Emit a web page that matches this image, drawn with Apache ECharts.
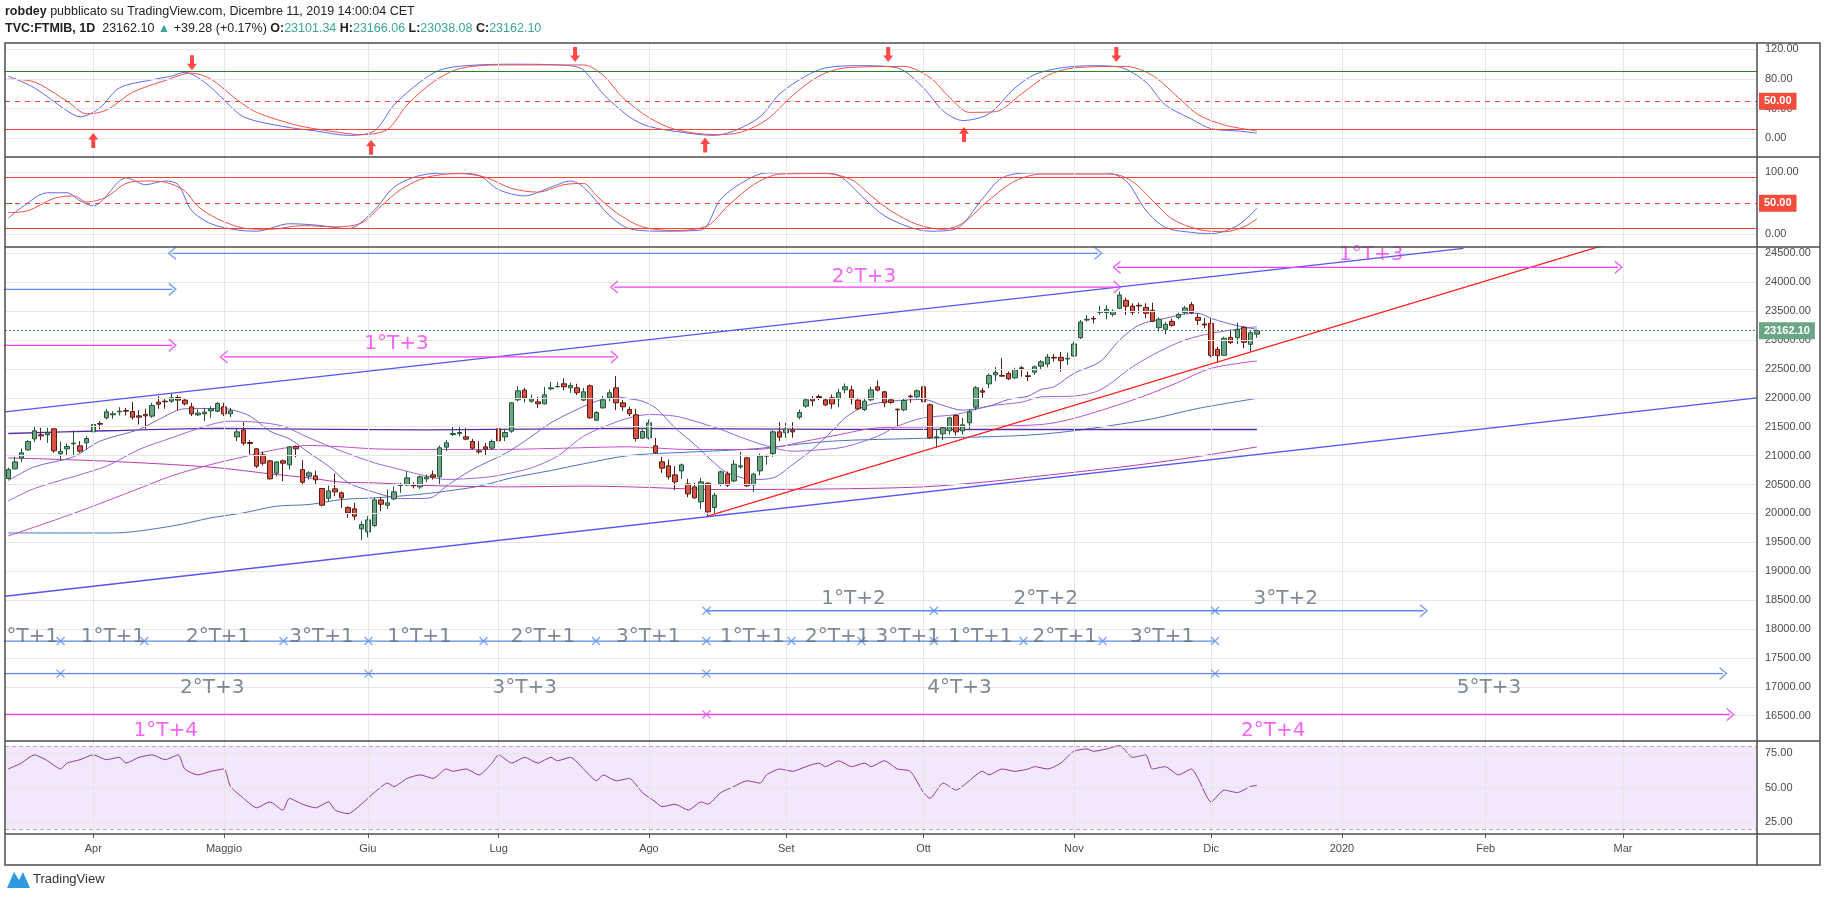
<!DOCTYPE html>
<html>
<head>
<meta charset="utf-8" />
<title>FTMIB 1D</title>
<script src="https://cdn.jsdelivr.net/npm/echarts@6/dist/echarts.min.js"></script>
<style type="text/css">
html, body { margin: 0; padding: 0; background: #fff; }
#chart { width: 1828px; height: 898px; }
</style>
</head>
<body>
<div id="chart"></div>
<script type="text/javascript">

var chart = echarts.init(document.getElementById('chart'));

// bar slots on the time axis (history + empty future space)
var barCount = 268;
var monthTicks = [[13, 'Apr'], [33, 'Maggio'], [55, 'Giu'], [75, 'Lug'], [98, 'Ago'], [119, 'Set'],
    [140, 'Ott'], [163, 'Nov'], [184, 'Dic'], [204, '2020'], [226, 'Feb'], [247, 'Mar']];

// daily candles [open, close, low, high], from mid March to 11 Dec 2019
var ohlc = [
[20604,20759,20586,20788],[20771,20892,20759,20979],[20956,21048,20892,21123],[21100,21244,21083,21267],
[21290,21429,21233,21498],[21360,21342,21267,21481],[21360,21394,21221,21481],[21463,21083,21048,21475],
[21031,21071,20933,21244],[21117,21158,21002,21210],[21204,21215,21002,21435],[21169,21077,21048,21250],
[21221,21296,21106,21336],[21411,21538,21394,21567],[21556,21544,21452,21596],[21654,21758,21625,21810],
[21706,21723,21636,21769],[21758,21769,21694,21838],[21781,21769,21694,21827],[21763,21665,21625,21931],
[21688,21665,21538,21787],[21712,21688,21463,21810],[21683,21867,21654,21913],[21925,21890,21810,22029],
[21942,21931,21810,21994],[21942,22000,21913,22075],[22006,21960,21787,22040],[21960,21896,21867,21994],
[21844,21723,21683,21913],[21706,21735,21683,21798],[21723,21752,21596,21827],[21775,21810,21654,21856],
[21769,21902,21752,21925],[21844,21723,21683,21913],[21723,21775,21665,21827],[21325,21411,21250,21463],
[21446,21215,21175,21579],[21227,21210,21019,21267],[21117,20817,20783,21129],[21013,20869,20829,21071],
[20910,20598,20586,20921],[20696,20892,20644,20898],[20910,20869,20558,20933],[20840,21152,20759,21163],
[21158,21117,20973,21175],[20759,20540,20488,20921],[20644,20702,20586,20731],[20650,20581,20500,20742],
[20431,20142,20125,20431],[20263,20390,20211,20483],[20425,20373,20298,20690],[20356,20269,20096,20379],
[20102,20009,19923,20125],[20079,19952,19882,20183],[19732,19807,19536,19865],[19680,19888,19588,19952],
[19790,20234,19767,20269],[20234,20159,20038,20281],[20142,20183,20079,20413],[20252,20373,20229,20471],
[20483,20494,20356,20529],[20494,20615,20471,20731],[20494,20477,20431,20540],[20459,20633,20425,20656],
[20598,20627,20540,20673],[20667,20627,20586,20742],[20633,21135,20500,21175],[21146,21221,21077,21267],
[21365,21383,21336,21510],[21383,21400,21336,21521],[21325,21285,21267,21481],[21244,21129,21106,21290],
[21083,21065,21031,21250],[21152,21111,20990,21221],[21129,21244,21094,21279],[21463,21256,21244,21481],
[21325,21400,21250,21463],[21423,21913,21394,21925],[21965,22121,21937,22202],[22133,22000,21925,22173],
[21942,21983,21913,22058],[21931,21896,21821,22017],[21896,22052,21885,22190],[22156,22173,22133,22277],
[22190,22196,22185,22277],[22242,22190,22133,22335],[22173,22213,22087,22260],[22173,22087,22046,22242],
[21960,22104,21942,22173],[22208,21654,21636,22231],[21613,21746,21596,21769],[21827,21965,21810,22029],
[22000,22087,21942,22144],[22173,21913,21787,22375],[21913,21844,21769,21960],[21798,21723,21683,21844],
[21706,21296,21244,21810],[21302,21417,21290,21452],[21308,21567,21279,21625],[21169,21048,21036,21308],
[20892,20783,20702,20979],[20823,20633,20586,20933],[20667,20546,20402,20817],[20736,20840,20598,20863],
[20511,20338,20280,20598],[20459,20269,20252,20529],[20200,20546,20079,20615],[20523,20027,19952,20540],
[20102,20315,19998,20356],[20511,20719,20471,20742],[20684,20488,20459,20725],[20563,20852,20540,20921],
[20806,20823,20771,21060],[20961,20477,20459,20979],[20494,20679,20367,20702],[20736,20990,20656,21036],
[20990,21002,20846,21019],[21036,21411,20979,21440],[21411,21319,21250,21579],[21394,21458,21308,21567],
[21440,21411,21308,21579],[21665,21746,21625,21798],[21856,21965,21827,22000],[21988,21948,21856,22029],
[22023,22006,21960,22058],[21965,21879,21856,22000],[22000,21896,21810,22058],[21983,22087,21838,22156],
[22138,22190,22075,22248],[22138,21983,21885,22213],[21960,21810,21787,22000],[21798,21942,21769,22000],
[21965,22138,21942,22190],[22190,22133,22110,22300],[22104,21913,21838,22115],[21965,21919,21896,22000],
[21804,21792,21498,21810],[21792,21954,21769,22000],[22029,22017,21913,22058],[22017,22121,21971,22144],
[22190,21931,21913,22300],[21879,21308,21290,21902],[21308,21325,21135,21452],[21377,21481,21267,21510],
[21429,21654,21365,21671],[21694,21411,21348,21712],[21429,21533,21365,21654],[21567,21758,21452,21798],
[21838,22173,21787,22202],[22121,22098,22000,22173],[22242,22387,22167,22421],[22398,22438,22288,22531],
[22387,22375,22369,22687],[22421,22329,22306,22456],[22346,22490,22329,22519],[22519,22508,22364,22548],
[22381,22369,22288,22456],[22444,22537,22398,22560],[22548,22623,22490,22652],[22585,22706,22527,22758],
[22700,22688,22625,22758],[22700,22642,22452,22792],[22671,22683,22567,22781],[22723,22931,22712,22971],
[23040,23312,23017,23346],[23346,23358,23317,23433],[23375,23364,23288,23415],[23479,23490,23433,23589],
[23473,23531,23358,23606],[23444,23496,23404,23531],[23548,23779,23537,23837],[23687,23583,23433,23733],
[23589,23479,23433,23635],[23600,23589,23462,23646],[23565,23462,23375,23635],[23514,23323,23312,23646],
[23213,23358,23144,23392],[23185,23271,23098,23312],[23323,23254,23231,23375],[23392,23444,23358,23473],
[23473,23554,23450,23589],[23612,23473,23450,23658],[23392,23340,23260,23462],[23277,23260,23202,23381],
[23289,22735,22700,23375],[22838,22729,22608,22885],[22735,23029,22729,23058],[23046,22954,22931,23185],
[23040,23185,22931,23300],[23219,22960,22856,23242],[22925,23127,22798,23173],[23101.34,23162.10,23038.08,23166.06]
];
var lastPrice = 23162.10;

// moving averages [bar, value]
var maFast = [[0,20569],[4,20806],[10,20979],[14,21250],[20,21452],[23,21625],[27,21810],[32,21815],[34,21798],[37,21683],[40,21423],[43,21290],[46,21048],[49,20817],[52,20529],[55,20402],[58,20298],[60,20258],[63,20258],[65,20287],[67,20471],[71,20760],[76,21036],[79,21250],[83,21567],[87,21798],[90,21942],[93,22017],[95,21983],[97,21942],[99,21827],[102,21481],[105,21192],[108,20875],[110,20702],[114,20587],[117,20615],[120,20846],[123,21106],[126,21423],[128,21654],[131,21856],[135,21942],[140,21971],[143,21867],[146,21787],[150,21856],[153,21971],[156,22029],[158,22144],[160,22192],[163,22423],[167,22625],[170,23000],[173,23260],[177,23375],[180,23450],[182,23462],[184,23375],[186,23306],[188,23248],[191,23185]];
var maMid = [[0,20215],[4,20431],[15,20817],[20,21106],[25,21308],[31,21538],[34,21596],[38,21579],[42,21510],[46,21308],[51,21077],[56,20875],[59,20788],[64,20644],[67,20587],[72,20615],[75,20656],[80,20788],[84,20990],[88,21336],[92,21538],[95,21654],[98,21711],[102,21683],[105,21596],[109,21452],[113,21279],[117,21135],[120,21077],[124,21100],[128,21152],[133,21336],[136,21509],[140,21654],[145,21711],[150,21856],[155,21925],[158,22017],[163,22030],[167,22135],[172,22538],[176,22798],[180,23000],[184,23115],[188,23185],[191,23230]];
var maSlow = [[0,19610],[10,20000],[20,20431],[25,20650],[31,20846],[36,20979],[41,21106],[46,21175],[51,21152],[56,21117],[64,21106],[75,21106],[83,21123],[95,21152],[104,21106],[114,21106],[117,21135],[122,21250],[127,21360],[133,21480],[145,21500],[158,21538],[163,21644],[172,21961],[178,22221],[184,22510],[191,22637]];
var maLong = [[0,19662],[16,19662],[25,19780],[31,19923],[36,20010],[41,20125],[46,20154],[51,20240],[56,20269],[61,20310],[64,20344],[67,20385],[72,20471],[77,20615],[83,20742],[88,20858],[95,21002],[104,21060],[114,21117],[126,21250],[140,21300],[158,21370],[174,21615],[182,21817],[191,21990]];
var maFlat = [[0,21383],[15,21430],[32,21470],[50,21455],[64,21446],[95,21470],[127,21455],[150,21452],[191,21452]];
var maDrift = [[0,20961],[15,20904],[31,20800],[41,20673],[46,20615],[51,20540],[56,20529],[64,20483],[77,20460],[88,20471],[95,20460],[109,20413],[127,20425],[140,20460],[150,20550],[158,20650],[170,20800],[180,20950],[191,21150]];

// trend lines [bar, price]
var channelTop = [[-0.5,21755],[222.6,24586]];
var channelBottom = [[-0.5,18567],[267.5,22000]];
var redTrend = [[107,19952],[245,24672]];

// stochastic panels [bar, value]
var stochAK = [[0,84],[4,68],[9,37],[11,29],[14,41],[17,68],[22,79],[25,84],[27,89],[30,76],[33,52],[36,29],[42,16],[47,10],[52,4],[56,10],[59,45],[63,76],[66,92],[70,98],[77,100],[86,98],[88,92],[91,60],[95,29],[98,16],[104,7],[108,4],[111,10],[115,29],[118,60],[122,84],[125,95],[130,98],[136,95],[140,68],[143,37],[146,24],[150,33],[154,68],[157,86],[161,95],[166,98],[170,96],[174,76],[177,45],[181,26],[184,13],[188,10],[191,7]];
var stochAD = [[0,80],[4,76],[9,50],[12,33],[15,38],[19,62],[24,78],[28,88],[31,80],[35,52],[38,35],[44,18],[49,10],[54,5],[58,12],[61,45],[65,76],[69,94],[75,99],[88,99],[91,85],[94,55],[98,28],[102,12],[108,5],[112,8],[116,25],[120,58],[124,84],[128,95],[137,97],[141,82],[144,55],[147,35],[151,36],[155,60],[159,85],[163,95],[171,97],[175,85],[179,55],[182,32],[186,18],[191,10]];
var stochBK = [[0,26],[2,43],[6,67],[9,67],[11,54],[13,46],[17,86],[18,91],[21,80],[24,86],[26,80],[28,39],[31,17],[35,7],[38,5],[43,17],[47,15],[52,9],[56,39],[59,76],[63,95],[68,99],[72,95],[75,72],[79,62],[83,76],[86,86],[88,76],[92,30],[95,9],[100,5],[106,7],[109,57],[113,88],[116,99],[124,99],[127,95],[131,57],[134,30],[138,11],[141,5],[145,9],[149,57],[152,91],[156,99],[168,99],[171,86],[174,39],[177,11],[181,3],[184,1],[188,14],[191,42]];
var stochBD = [[0,35],[3,38],[7,58],[10,62],[12,52],[15,60],[18,82],[21,86],[24,84],[27,70],[29,45],[32,25],[36,10],[40,8],[45,14],[50,12],[54,18],[57,45],[60,72],[64,92],[69,98],[73,92],[77,74],[81,68],[85,80],[88,82],[90,62],[93,35],[97,12],[102,6],[107,14],[110,45],[114,80],[118,97],[125,98],[129,88],[132,62],[135,38],[139,16],[143,8],[146,18],[150,55],[154,86],[158,97],[169,97],[172,85],[175,55],[178,25],[182,8],[186,4],[189,12],[191,25]];
var turnsDown = [[28.1,102],[86.7,113],[134.6,113],[169.5,113]];
var turnsUp = [[13,-3],[55.5,-12],[106.6,-9],[146.2,5]];

// RSI [bar, value]
var rsi = [[0,63.6],[2,67.9],[4,73.9],[6,69.6],[8,63.6],[9,67.9],[11,70.4],[13,73.9],[15,70.4],[17,72.1],[18,67.9],[20,72.1],[22,73.9],[24,70.4],[26,73.9],[27,63.6],[29,59.3],[31,61.9],[33,63.6],[34,50.8],[36,42.2],[38,35.3],[40,39.6],[42,33.6],[43,42.2],[45,37.9],[47,35.3],[49,39.6],[50,33.6],[52,31.0],[54,37.9],[56,46.4],[58,53.3],[59,50.8],[61,56.7],[63,59.3],[65,56.7],[67,63.6],[68,61.9],[70,63.6],[72,59.3],[74,67.9],[75,73.9],[77,67.9],[79,72.1],[81,67.9],[83,72.1],[84,69.6],[86,72.1],[88,63.6],[90,55.0],[91,59.3],[93,55.0],[95,56.7],[97,46.4],[99,39.6],[100,36.1],[102,37.9],[104,33.6],[106,39.6],[107,37.9],[109,46.4],[111,50.8],[113,55.0],[115,53.3],[116,59.3],[118,63.6],[120,61.9],[122,65.3],[124,67.9],[125,65.3],[127,69.6],[129,65.3],[131,67.9],[132,65.3],[134,69.6],[136,63.6],[138,61.9],[140,46.4],[141,42.2],[143,53.3],[145,48.2],[147,55.0],[149,61.9],[150,59.3],[152,63.6],[154,61.9],[156,63.6],[157,65.3],[159,63.6],[161,67.9],[163,76.5],[165,78.2],[166,76.5],[168,78.2],[170,80.7],[172,72.1],[174,73.9],[175,63.6],[177,65.3],[179,59.3],[181,63.6],[182,56.7],[184,39.6],[186,48.2],[188,46.4],[190,50.8],[191,51.6]];

// cycle drawings
var arrowsBlue = [[[-1,23876],[25.1,23876]], [[25.1,24500],[166.7,24500]]];
var arrowsMagenta = [[[-1,22908],[25.1,22908]], [[33.0,22708],[92.7,22708]], [[92.7,23916],[169.6,23916]], [[169.6,24258],[246.3,24258]]];
var rowT1 = {y: 17792, from: -1, to: 184.6, marks: [8.0,20.8,42.1,55.1,72.7,89.9,106.8,119.8,130.5,141.6,155.3,167.4,184.6]};
var rowT2 = {y: 18316, from: 106.8, to: 216.5, marks: [106.8,141.6,184.6]};
var rowT3 = {y: 17229, from: -1, to: 262.3, marks: [8.0,55.1,106.8,184.6]};
var rowT4 = {y: 16523, from: -1, to: 263.4, marks: [106.8]};
var labelsMagenta = [['1°T+3',59.4,22929],['2°T+3',130.9,24097],['1°T+3',208.5,24481],['1°T+4',24.1,16240],['2°T+4',193.5,16240]];
var labelsGrey = [['1°T+2',129.3,18518],['2°T+2',158.7,18518],['3°T+2',195.4,18518],
    ['°T+1',3.7,17873],['1°T+1',16.0,17873],['2°T+1',32.1,17873],['3°T+1',47.9,17873],['1°T+1',62.9,17873],
    ['2°T+1',81.8,17873],['3°T+1',97.9,17873],['1°T+1',113.8,17873],['2°T+1',126.8,17873],['3°T+1',137.6,17873],
    ['1°T+1',148.7,17873],['2°T+1',161.6,17873],['3°T+1',176.5,17873],
    ['2°T+3',31.2,16987],['3°T+3',79.0,16987],['4°T+3',145.5,16987],['5°T+3',226.5,16987]];

var priceTicks = [16500,17000,17500,18000,18500,19000,19500,20000,20500,21000,21500,22000,22500,23000,23500,24000,24500];

// ---------------------------------------------------------------
var MAGENTA = '#f23df2', BLUE = '#5b8def', GREY_TXT = '#5d6b7c';
var FONT = 'Liberation Sans';
var monthIdx = monthTicks.map(function (m) { return m[0]; });
var monthName = {};
monthTicks.forEach(function (m) { monthName[m[0]] = m[1]; });
var cats = [];
for (var i = 0; i < barCount; i++) cats.push(String(i));

var grids = [
    {left: 5, right: 71, top: 43, height: 114},
    {left: 5, right: 71, top: 157, height: 90},
    {left: 5, right: 71, top: 247, height: 494},
    {left: 5, right: 71, top: 741, height: 93}
];

function valueX(g) {
    return {type: 'value', gridIndex: g, position: 'top', min: -0.5, max: barCount - 0.5, show: false};
}
function rightY(g, min, max, ticks) {
    return {
        type: 'value', gridIndex: g, position: 'right', min: min, max: max, scale: true,
        axisLine: {show: false},
        axisTick: {show: true, customValues: ticks, length: 4, lineStyle: {color: '#555'}},
        splitLine: {show: false},
        axisLabel: {customValues: ticks, color: '#4a4a4a', fontSize: 11, fontFamily: FONT, margin: 8,
            formatter: function (v) { return v.toFixed(2); }}
    };
}
function gridLines(xa, ya, ys) {
    var d = monthIdx.map(function (m) { return {xAxis: m}; });
    ys.forEach(function (y) { d.push({yAxis: y}); });
    return {
        type: 'line', xAxisIndex: xa, yAxisIndex: ya, data: [], silent: true, z: 0,
        markLine: {silent: true, symbol: ['none', 'none'], label: {show: false},
            lineStyle: {color: '#e6e6e6', width: 1, type: 'solid'}, data: d}
    };
}
function levelLines(xa, ya, levels) {
    return {
        type: 'line', xAxisIndex: xa, yAxisIndex: ya, data: [], silent: true, z: 1,
        markLine: {silent: true, symbol: ['none', 'none'],
            data: levels.map(function (l) {
                return {yAxis: l.v, lineStyle: {color: l.c, width: 1, type: l.t || 'solid'},
                    label: l.box ? {show: true, position: 'end', distance: 2, formatter: l.v.toFixed(2),
                        backgroundColor: l.box, color: '#fff', fontSize: 11, fontFamily: FONT,
                        fontWeight: 'bold', padding: [3, 5]} : {show: false}};
            })}
    };
}
function line(xa, ya, data, color, width, z) {
    return {type: 'line', xAxisIndex: xa, yAxisIndex: ya, data: data, symbol: 'none', smooth: 0.3,
        silent: true, z: z || 3, lineStyle: {color: color, width: width || 1}};
}
function straight(data, color) {
    return {type: 'line', xAxisIndex: 2, yAxisIndex: 2, data: data, symbol: 'none', silent: true, z: 5,
        lineStyle: {color: color, width: 1.3}};
}
var CHEVRON = 'path://M0,0L8,6L0,12';
var CROSS = 'path://M0,0L10,10M10,0L0,10';
function marks(points, symbol, color, size, rot) {
    return {type: 'scatter', xAxisIndex: 2, yAxisIndex: 2, symbol: symbol, symbolSize: size, silent: true, z: 6,
        symbolRotate: rot || 0,
        itemStyle: {color: 'rgba(0,0,0,0)', borderColor: color, borderWidth: 1.3}, data: points};
}
function texts(list, color) {
    return {type: 'scatter', xAxisIndex: 2, yAxisIndex: 2, symbolSize: 0, silent: true, z: 7,
        data: list.map(function (t) { return {name: t[0], value: [t[1], t[2]]}; }),
        label: {show: true, position: 'inside', formatter: '{b}', color: color, fontSize: 20, fontFamily: 'DejaVu Sans'}};
}

var series = [];
// panel grids
series.push(gridLines(0, 0, [0, 40, 80, 120]));
series.push(gridLines(1, 1, [0, 100]));
series.push(gridLines(2, 2, priceTicks));
series.push(gridLines(4, 3, [25, 50, 75]));
// stochastic levels
series.push(levelLines(0, 0, [{v: 90, c: '#2e7d32'}, {v: 50, c: '#f44336', t: [5, 5], box: '#f24c3d'}, {v: 12, c: '#f44336'}]));
series.push(levelLines(1, 1, [{v: 92, c: '#f44336'}, {v: 50, c: '#f44336', t: [5, 5], box: '#f24c3d'}, {v: 10, c: '#f44336'}]));
series.push(line(0, 0, stochAK, '#5c6cf0'));
series.push(line(0, 0, stochAD, '#f0524b'));
series.push(line(1, 1, stochBK, '#5c6cf0'));
series.push(line(1, 1, stochBD, '#f0524b'));
series.push({type: 'scatter', xAxisIndex: 0, yAxisIndex: 0, data: turnsDown, silent: true, z: 6,
    symbol: 'path://M3,0L7,0L7,9L10,9L5,16L0,9L3,9Z', symbolSize: [10, 15], itemStyle: {color: '#ff1a1a'}});
series.push({type: 'scatter', xAxisIndex: 0, yAxisIndex: 0, data: turnsUp, silent: true, z: 6,
    symbol: 'path://M3,0L7,0L7,9L10,9L5,16L0,9L3,9Z', symbolRotate: 180, symbolSize: [10, 15], itemStyle: {color: '#ff1a1a'}});

// moving averages
series.push(line(2, 2, maLong, '#4a74bd'));
series.push(line(2, 2, maFlat, '#5a2da6', 1.3));
series.push(line(2, 2, maDrift, '#b93ab4'));
series.push(line(2, 2, maSlow, '#c24fc6'));
series.push(line(2, 2, maMid, '#9d68d9'));
series.push(line(2, 2, maFast, '#7766d8'));

// candles
series.push({
    type: 'candlestick', xAxisIndex: 3, yAxisIndex: 2, data: ohlc, barWidth: 5, z: 4, silent: true,
    itemStyle: {color: '#6ba583', color0: '#d75442', borderColor: '#225437', borderColor0: '#5b1a13', borderWidth: 1},
    markLine: {silent: true, symbol: ['none', 'none'],
        data: [{yAxis: lastPrice, lineStyle: {color: '#3d8a5c', type: [2, 2], width: 1},
            label: {show: true, position: 'end', distance: 2, formatter: lastPrice.toFixed(2), backgroundColor: '#6ba583',
                color: '#fff', fontSize: 11, fontWeight: 'bold', fontFamily: FONT, padding: [3, 5]}}]}
});

// trend lines and cycle drawings
series.push(straight(channelTop, '#5555f5'));
series.push(straight(channelBottom, '#5555f5'));
series.push(straight(redTrend, '#ff2222'));
arrowsBlue.forEach(function (a) { series.push(straight(a, BLUE)); });
arrowsMagenta.forEach(function (a) { series.push(straight(a, MAGENTA)); });
[rowT1, rowT2, rowT3].forEach(function (r) {
    series.push(straight([[r.from, r.y], [r.to, r.y]], BLUE));
    series.push(marks(r.marks.map(function (m) { return [m, r.y]; }), CROSS, BLUE, 8));
});
series.push(straight([[rowT4.from, rowT4.y], [rowT4.to, rowT4.y]], MAGENTA));
series.push(marks(rowT4.marks.map(function (m) { return [m, rowT4.y]; }), CROSS, MAGENTA, 8));
// arrow heads
var headsRight = [[25.1,23876],[166.7,24500],[216.5,rowT2.y],[262.3,rowT3.y]];
var headsLeft = [[25.1,24500]];
series.push(marks(headsRight, CHEVRON, BLUE, [7, 12], 0));
series.push(marks(headsLeft, CHEVRON, BLUE, [7, 12], 180));
series.push(marks([[25.1,22908],[92.7,22708],[169.6,23916],[246.3,24258],[263.4,rowT4.y]], CHEVRON, MAGENTA, [7, 12], 0));
series.push(marks([[33.0,22708],[92.7,23916],[169.6,24258]], CHEVRON, MAGENTA, [7, 12], 180));
series.push(texts(labelsMagenta, MAGENTA));
series.push(texts(labelsGrey, GREY_TXT));

// RSI
series.push({type: 'line', xAxisIndex: 4, yAxisIndex: 3, data: rsi, symbol: 'none', smooth: 0.2, silent: true, z: 3,
    lineStyle: {color: '#8e3a9e', width: 1},
    markArea: {silent: true, itemStyle: {color: 'rgba(190,130,235,0.18)'}, data: [[{yAxis: 20}, {yAxis: 80}]]},
    markLine: {silent: true, symbol: ['none', 'none'], label: {show: false},
        lineStyle: {color: '#b8a4c8', type: [4, 3], width: 1}, data: [{yAxis: 80}, {yAxis: 20}]}});

var option = {
    animation: false,
    backgroundColor: '#ffffff',
    grid: grids,
    xAxis: [
        valueX(0), valueX(1), valueX(2),
        {type: 'category', gridIndex: 2, position: 'bottom', data: cats, show: false, boundaryGap: true},
        valueX(3),
        {type: 'category', gridIndex: 3, position: 'bottom', data: cats, boundaryGap: true,
            axisLine: {show: false},
            axisTick: {show: true, alignWithLabel: true, length: 4, lineStyle: {color: '#555'},
                interval: function (i) { return monthName[i] !== undefined; }},
            axisLabel: {color: '#4a4a4a', fontSize: 11, fontFamily: FONT, margin: 9,
                interval: function (i) { return monthName[i] !== undefined; },
                formatter: function (v, i) { return monthName[i] || ''; }},
            splitLine: {show: false}}
    ],
    yAxis: [
        rightY(0, -25.2, 128.6, [0, 40, 80, 120]),
        rightY(1, -20.5, 124.7, [0, 50, 100]),
        rightY(2, 16063, 24609, priceTicks),
        rightY(3, 16.2, 84, [25, 50, 75])
    ],
    graphic: [
        {type: 'rect', shape: {x: 5, y: 43, width: 1815, height: 822}, style: {fill: 'none', stroke: '#4d4d4d', lineWidth: 1.5}, z: 50},
        {type: 'line', shape: {x1: 5, y1: 157, x2: 1820, y2: 157}, style: {stroke: '#4d4d4d', lineWidth: 1.5}, z: 50},
        {type: 'line', shape: {x1: 5, y1: 247, x2: 1820, y2: 247}, style: {stroke: '#4d4d4d', lineWidth: 1.5}, z: 50},
        {type: 'line', shape: {x1: 5, y1: 741, x2: 1820, y2: 741}, style: {stroke: '#4d4d4d', lineWidth: 1.5}, z: 50},
        {type: 'line', shape: {x1: 5, y1: 834, x2: 1820, y2: 834}, style: {stroke: '#4d4d4d', lineWidth: 1.5}, z: 50},
        {type: 'line', shape: {x1: 1757, y1: 43, x2: 1757, y2: 865}, style: {stroke: '#4d4d4d', lineWidth: 1.5}, z: 50},
        {type: 'text', x: 5, y: 5, z: 50, style: {
            text: '{b|robdey} pubblicato su TradingView.com, Dicembre 11, 2019 14:00:04 CET',
            fill: '#222', fontSize: 12.5, fontFamily: 'Liberation Sans Narrow, Liberation Sans',
            rich: {b: {fontWeight: 'bold', fontSize: 12.5, fontFamily: 'Liberation Sans Narrow, Liberation Sans', fill: '#222'}}}},
        {type: 'text', x: 5, y: 22, z: 50, style: {
            text: '{b|TVC:FTMIB, 1D}  23162.10 {g|▲} +39.28 (+0.17%) {b|O:}{g|23101.34} {b|H:}{g|23166.06} {b|L:}{g|23038.08} {b|C:}{g|23162.10}',
            fill: '#222', fontSize: 12.5, fontFamily: 'Liberation Sans Narrow, Liberation Sans',
            rich: {b: {fontWeight: 'bold', fontSize: 12.5, fontFamily: 'Liberation Sans Narrow, Liberation Sans', fill: '#222'},
                g: {fontSize: 12.5, fontFamily: 'Liberation Sans Narrow, Liberation Sans', fill: '#3aa596'}}}},
        {type: 'polygon', z: 50, shape: {points: [[7, 888], [14, 872], [19, 880], [23, 872], [30, 888]]}, style: {fill: '#2f9ae0'}},
        {type: 'text', x: 33, y: 873, z: 50, style: {text: 'TradingView', fill: '#333', fontSize: 13, fontFamily: 'Liberation Sans Narrow, Liberation Sans'}}
    ],
    series: series
};

chart.setOption(option);

</script>
</body>
</html>
